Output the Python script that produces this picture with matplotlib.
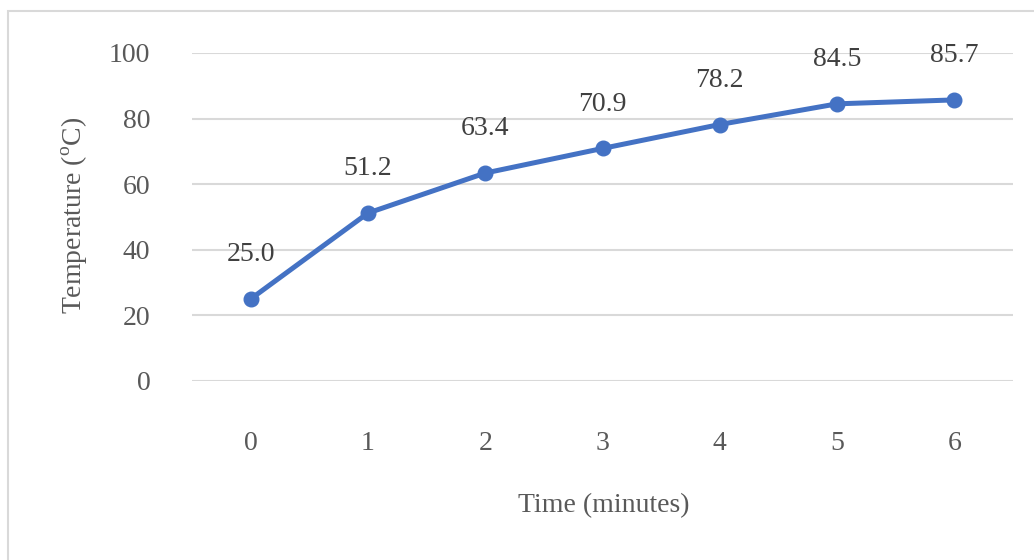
import matplotlib
matplotlib.use("Agg")
import matplotlib.pyplot as plt
from matplotlib.patches import Rectangle

# Heating curve: temperature readings taken once per minute
minutes = [0, 1, 2, 3, 4, 5, 6]
temperature = [25.0, 51.2, 63.4, 70.9, 78.2, 84.5, 85.7]
y_ticks = [0, 20, 40, 60, 80, 100]

W, H, DPI = 1034, 560, 100
plt.rcParams["font.family"] = ["Liberation Serif", "DejaVu Serif"]
plt.rcParams["mathtext.fontset"] = "custom"
plt.rcParams["mathtext.rm"] = "Liberation Serif"

text_color = "#595959"
grid_color = "#d9d9d9"
line_color = "#4472C4"

fig = plt.figure(figsize=(W / DPI, H / DPI), dpi=DPI)

# light chart-area border (top and left edges visible, rest runs off the page)
fig.patches.append(Rectangle((8 / W, -0.1), 1.2, (H - 11) / H + 0.1,
                             transform=fig.transFigure, fill=False,
                             edgecolor=grid_color, linewidth=1.5))

ax = fig.add_axes([192 / W, (H - 381) / H, (1013 - 192) / W, (381 - 53) / H])
ax.set_xlim(-0.5, 6.5)
ax.set_ylim(0, 100)

for y in y_ticks:
    ax.axhline(y, color=grid_color, linewidth=1.5, zorder=1)

ax.plot(minutes, temperature, color=line_color, linewidth=3.6,
        marker="o", markersize=10.5, zorder=3, solid_capstyle="round")

for x, t in zip(minutes, temperature):
    ax.annotate(f"{t:.1f}", (x, t), xytext=(0, 32), textcoords="offset points",
                ha="center", va="center", fontsize=20, color="#404040")

ax.set_xticks(minutes)
ax.set_xticklabels([str(m) for m in minutes])
ax.set_yticks(y_ticks)
ax.tick_params(axis="both", length=0, labelsize=20, labelcolor=text_color)
ax.tick_params(axis="y", pad=30)
ax.tick_params(axis="x", pad=36)
for s in ax.spines.values():
    s.set_visible(False)

fig.text(604 / W, 1 - 506 / H, "Time (minutes)", ha="center", va="center",
         fontsize=20, color=text_color)
fig.text(75 / W, 1 - 215 / H, r"Temperature ($^{\mathrm{o}}$C)", ha="center",
         va="center", rotation=90, fontsize=20, color=text_color)

fig.savefig("out.png", dpi=DPI, facecolor="white")
